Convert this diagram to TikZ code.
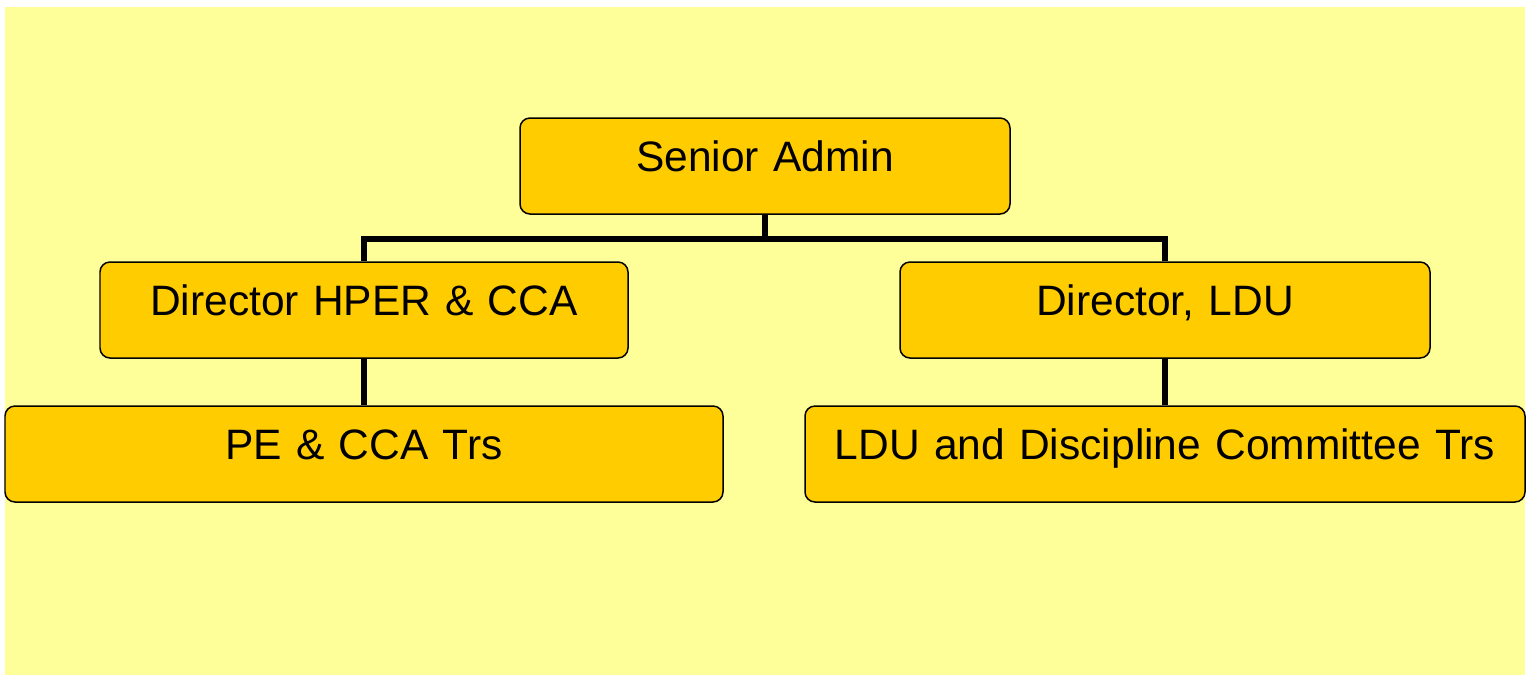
\documentclass[tikz,border=0pt]{standalone}
\usepackage{fontspec}
\setmainfont{Liberation Sans}
\usepackage{tikz}

\definecolor{bgyellow}{HTML}{FFFF99}
\definecolor{boxgold}{HTML}{FFCC00}

\begin{document}
\begin{tikzpicture}[
  org box/.style={rectangle,rounded corners=0.2cm,draw=black,line width=0.85pt,
    fill=boxgold,inner sep=0pt,text height=1.06cm,text depth=0.86cm,
    font=\fontsize{24.2}{29}\selectfont},
  link/.style={-,line width=3.4pt,black}]
\useasboundingbox (0,0) rectangle (30.7,-13.5);
\fill[bgyellow] (0.1,-0.14) rectangle (30.5,-13.5);

\node[org box,text width=9.8cm,align=center] (senior) at (15.3,-3.32) {Senior Admin};
\node[org box,text width=10.56cm,align=center] (hper) at (7.28,-6.2) {Director HPER \& CCA};
\node[org box,text width=10.6cm,align=center] (ldu) at (23.3,-6.2) {Director, LDU};
\node[org box,text width=14.36cm,align=center] (pe) at (7.28,-9.08) {PE \& CCA Trs};
\node[org box,text width=14.4cm,align=center] (ldutrs) at (23.3,-9.08) {LDU and Discipline Committee Trs};

\draw[link] (senior.south) -- ++(0,-0.48) -| (hper.north);
\draw[link] (senior.south) -- ++(0,-0.48) -| (ldu.north);
\draw[link] (hper.south) -- (pe.north);
\draw[link] (ldu.south) -- (ldutrs.north);
\end{tikzpicture}
\end{document}
